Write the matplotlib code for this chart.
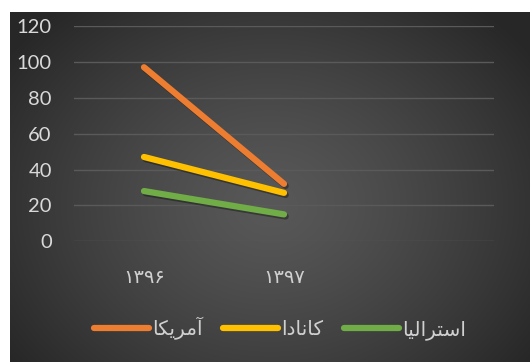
import numpy as np
import matplotlib
matplotlib.use("Agg")
import matplotlib.pyplot as plt
import matplotlib.patheffects as pe
import matplotlib.transforms as mtransforms

# Years (Persian digits) — third slot is an empty category
years = ["\u06F1\u06F3\u06F9\u06F6", "\u06F1\u06F3\u06F9\u06F7", ""]

# Series names, pre-shaped Arabic presentation forms in visual order
name_usa = "\uFE8E\uFB91\uFBFE\uFEAE\uFEE3\uFE81"          # آمریکا
name_canada = "\uFE8D\uFEA9\uFE8E\uFEE7\uFE8E\uFB90"       # کانادا
name_australia = "\uFE8E\uFBFF\uFEDF\uFE8D\uFEAE\uFE98\uFEB3\uFE8D"  # استرالیا

usa = [97, 32]
canada = [47, 27]
australia = [28, 15]

colors = {"usa": "#ED7D31", "canada": "#FFC000", "australia": "#70AD47"}

W, H = 530, 362
fig = plt.figure(figsize=(W / 100, H / 100), dpi=100)
fig.patch.set_facecolor("white")

# Dark chart area with a soft radial glow
bg = fig.add_axes([10 / W, 0, 520 / W, 350 / H])
bg.set_axis_off()
ny, nx = 350, 520
yy, xx = np.mgrid[0:ny, 0:nx]
cx, cy = nx * 0.5, ny * 0.55
r = np.sqrt(((xx - cx) / (nx * 0.62)) ** 2 + ((yy - cy) / (ny * 0.75)) ** 2)
r = np.clip(r, 0, 1)
inner = np.array([0x58, 0x58, 0x58]) / 255
outer = np.array([0x27, 0x27, 0x27]) / 255
img = inner[None, None, :] * (1 - r[..., None] ** 1.3) + outer[None, None, :] * (r[..., None] ** 1.3)
bg.imshow(img, aspect="auto", extent=[0, 1, 0, 1], origin="upper")
bg.set_xlim(0, 1)
bg.set_ylim(0, 1)

ax = fig.add_axes([74 / W, 1 - 241.3 / H, 420 / W, (241.3 - 26) / H])
ax.set_facecolor("none")
ax.set_xlim(-0.5, 2.5)
ax.set_ylim(0, 120)
ax.set_yticks(range(0, 121, 20))
ax.set_xticks(range(len(years)))
ax.set_xticklabels(years, family="DejaVu Sans", fontsize=14, color="#d0d0d0")
shift = mtransforms.ScaledTranslation(7 / 100, 0, fig.dpi_scale_trans)
for lbl in ax.get_xticklabels():
    lbl.set_transform(lbl.get_transform() + shift)
for lbl in ax.get_yticklabels():
    lbl.set_family("Lato")
    lbl.set_fontsize(14.5)
    lbl.set_color("#d9d9d9")
ax.tick_params(axis="y", length=0, pad=16)
ax.tick_params(axis="x", length=0, pad=19)
for s in ax.spines.values():
    s.set_visible(False)
ax.grid(axis="y", color="#5a5a5a", linewidth=1.0)
ax.set_axisbelow(True)

shadow = [pe.SimpleLineShadow(offset=(1.2, -1.5), shadow_color="black", alpha=0.35), pe.Normal()]
x = np.arange(len(usa))
l1, = ax.plot(x, usa, color=colors["usa"], lw=4.5, solid_capstyle="round", path_effects=shadow, label=name_usa)
l2, = ax.plot(x, canada, color=colors["canada"], lw=4.5, solid_capstyle="round", path_effects=shadow, label=name_canada)
l3, = ax.plot(x, australia, color=colors["australia"], lw=4.5, solid_capstyle="round", path_effects=shadow, label=name_australia)

leg = fig.legend(handles=[l1, l2, l3], loc="center", bbox_to_anchor=(280 / W, 1 - 328 / H),
                 ncol=3, frameon=False, prop={"family": "DejaVu Sans", "size": 14.5},
                 handlelength=2.75, handletextpad=0.15, columnspacing=1.0, labelcolor="#d0d0d0")
for h in leg.legend_handles:
    h.set_path_effects([])
    h.set_solid_capstyle("round")

fig.savefig("out.png", dpi=100, facecolor=fig.get_facecolor())
